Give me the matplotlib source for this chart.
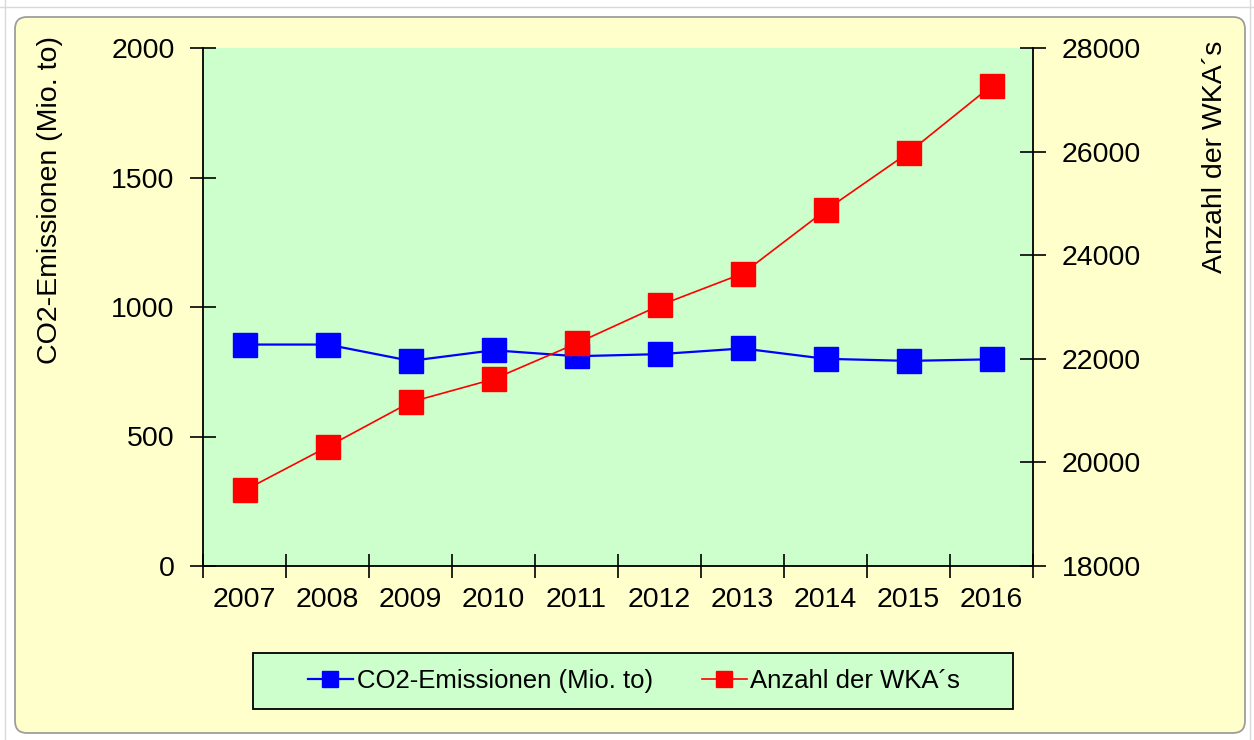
import numpy as np
import matplotlib
matplotlib.use("Agg")
import matplotlib.pyplot as plt
from matplotlib.patches import FancyBboxPatch, Rectangle
from matplotlib.lines import Line2D

# ---- data ----
years = ['2007', '2008', '2009', '2010', '2011', '2012', '2013', '2014', '2015', '2016']
co2 = [855, 855, 792, 833, 810, 818, 840, 800, 792, 798]
wka = [19460, 20301, 21164, 21607, 22297, 23030, 23645, 24867, 25980, 27270]
co2_label = 'CO2-Emissionen (Mio. to)'
wka_label = 'Anzahl der WKA´s'
left_ticks = [0, 500, 1000, 1500, 2000]
right_ticks = [18000, 20000, 22000, 24000, 26000, 28000]

plt.rcParams['font.family'] = ['Liberation Sans', 'DejaVu Sans']

W, H = 1254, 740
fig = plt.figure(figsize=(W / 100, H / 100), dpi=100)
fig.patch.set_facecolor('white')

# faint spreadsheet gridlines outside chart
for yy in [7]:
    fig.add_artist(Line2D([0, 1], [1 - yy / H, 1 - yy / H], transform=fig.transFigure,
                          color='#D9D9D9', lw=1, zorder=0))
for xx in [5, 1250]:
    fig.add_artist(Line2D([xx / W, xx / W], [0, 1], transform=fig.transFigure,
                          color='#D9D9D9', lw=1, zorder=0))

# chart area (rounded yellow)
bg = FancyBboxPatch((15 / 100, (H - 733) / 100), (1245 - 15) / 100, (733 - 17) / 100,
                    boxstyle='round,pad=0,rounding_size=0.12',
                    transform=fig.dpi_scale_trans, fc='#FFFFCC', ec='#9E9E9E', lw=1.3, zorder=0)
fig.add_artist(bg)

ax = fig.add_axes([203 / W, 1 - 566 / H, 830 / W, 518 / H])
ax.set_facecolor('#CCFFCC')
x = np.arange(len(years))

ax.plot(x, co2, color='#0000FF', lw=1.6, marker='s', ms=17, mec='#0000FF', mfc='#0000FF', zorder=3)
ax.set_xlim(-0.5, len(years) - 0.5)
ax.set_ylim(0, 2000)
ax.set_yticks(left_ticks)
ax.set_xticks(x)
ax.set_xticklabels(years)
ax.set_xticks(np.arange(-0.5, len(years), 1.0), minor=True)
ax.tick_params(axis='x', which='major', length=0, pad=15, labelsize=20.5)
ax.tick_params(axis='x', which='minor', length=17, width=1.2, direction='inout')
ax.tick_params(axis='y', which='major', length=19, width=1.2, direction='inout', pad=11, labelsize=20.5)
for s in ['top', 'right']:
    ax.spines[s].set_visible(False)
for s in ['left', 'bottom']:
    ax.spines[s].set_linewidth(1.3)

ax2 = ax.twinx()
ax2.plot(x, wka, color='#FF0000', lw=1.2, marker='s', ms=17, mec='#FF0000', mfc='#FF0000', zorder=3)
ax2.set_ylim(18000, 28000)
ax2.set_yticks(right_ticks)
ax2.tick_params(axis='y', which='major', length=19, width=1.2, direction='inout', pad=11, labelsize=20.5)
for s in ['top', 'left', 'bottom']:
    ax2.spines[s].set_visible(False)
ax2.spines['right'].set_linewidth(1.3)
ax2.set_xlim(-0.5, len(years) - 0.5)

# axis titles
fig.text(50 / W, 1 - 200 / H, co2_label, rotation=90, ha='center', va='center', fontsize=20.5)
fig.text(1215 / W, 1 - 157 / H, wka_label, rotation=90, ha='center', va='center', fontsize=20.5)

# legend frame
fig.add_artist(Rectangle((253 / W, 1 - 709 / H), (1013 - 253) / W, (709 - 653) / H,
                         transform=fig.transFigure, fc='#CCFFCC', ec='black', lw=1.3, zorder=1))
handles = [Line2D([], [], color='#0000FF', lw=1.6, marker='s', ms=11),
           Line2D([], [], color='#FF0000', lw=1.2, marker='s', ms=11)]
leg = fig.legend(handles, [co2_label, wka_label], loc='center', bbox_to_anchor=(634 / W, 1 - 681 / H),
                 ncol=2, frameon=False, handlelength=1.75, handletextpad=0.15, columnspacing=1.9,
                 fontsize=18.5)
leg.set_zorder(2)

fig.savefig('out.png', dpi=100, facecolor=fig.get_facecolor())
